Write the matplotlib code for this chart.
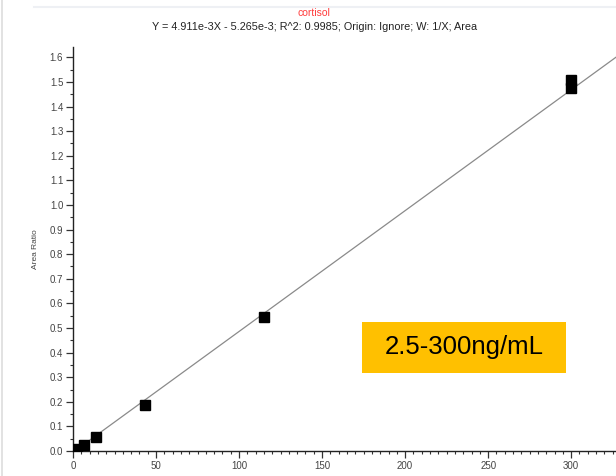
import numpy as np
import matplotlib.pyplot as plt
from matplotlib.ticker import MultipleLocator, FormatStrFormatter
from matplotlib.lines import Line2D
from matplotlib.patches import Rectangle

plt.rcParams['font.family'] = ['Liberation Sans', 'DejaVu Sans']

# calibration standards (ng/mL) and measured area ratios
conc = [2.5, 6.5, 14, 43.5, 115, 300, 300]
area_ratio = [0.008, 0.024, 0.057, 0.185, 0.545, 1.475, 1.51]

# weighted linear fit reported by the software
slope = 4.911e-3
intercept = -5.265e-3
r2 = 0.9985
analyte = "cortisol"
range_label = "2.5-300ng/mL"

fig = plt.figure(figsize=(6.16, 4.76), dpi=100)
ax = fig.add_axes([0.1185, 0.0525, 0.8815, 0.8487])

xfit = np.linspace(0, 330, 200)
ax.plot(xfit, slope * xfit + intercept, color="#8a8a8a", lw=0.9, zorder=2)
ax.plot(conc, area_ratio, "s", color="black", ms=6.8, mec="black", zorder=3)

ax.set_xlim(0, 327)
ax.set_ylim(0, 1.642)
ax.xaxis.set_major_locator(MultipleLocator(50))
ax.xaxis.set_minor_locator(MultipleLocator(5))
ax.yaxis.set_major_locator(MultipleLocator(0.1))
ax.yaxis.set_minor_locator(MultipleLocator(0.05))
ax.yaxis.set_major_formatter(FormatStrFormatter("%.1f"))

for s in ["top", "right"]:
    ax.spines[s].set_visible(False)
for s in ["left", "bottom"]:
    ax.spines[s].set_linewidth(1.0)
    ax.spines[s].set_color("#222222")

ax.tick_params(which="major", length=5, width=0.9, color="#333333",
               labelsize=7, labelcolor="#444444", pad=2)
ax.tick_params(which="minor", length=2.5, width=0.8, color="#333333")
ax.set_ylabel("Area Ratio", fontsize=6, color="#444444", labelpad=8)

fig.text(0.51, 0.972, analyte, color="#ff3b3b", fontsize=7.5, ha="center", va="center")
fig.text(0.51, 0.943,
         f"Y = {slope:.3e}X - {abs(intercept):.3e}; R^2: {r2}; Origin: Ignore; W: 1/X; Area"
         .replace("e-03", "e-3"),
         color="#222222", fontsize=7.8, ha="center", va="center")

# concentration range tag
fig.add_artist(Rectangle((0.5877, 0.2164), 0.3312, 0.1071, transform=fig.transFigure,
                         fc="#ffc000", ec="none", zorder=5))
fig.text(0.753, 0.270, range_label, fontsize=18.5, ha="center", va="center",
         color="black", zorder=6)

# faint page frame
fig.add_artist(Line2D([0.004, 0.004], [0, 1], color="#dddddd", lw=1.2, transform=fig.transFigure))
fig.add_artist(Line2D([0.055, 1], [0.985, 0.985], color="#eef0f4", lw=1.5, transform=fig.transFigure))

fig.savefig("out.png", dpi=100)
